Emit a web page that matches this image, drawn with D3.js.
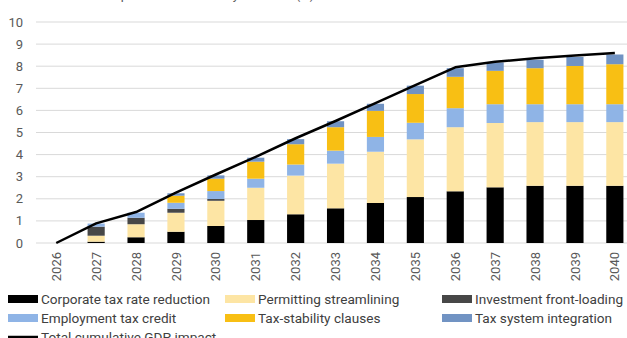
<!DOCTYPE html>
<html>
<head>
<meta charset="utf-8">
<script src="https://cdn.jsdelivr.net/npm/d3@7"></script>
<style>
  body { margin: 0; background: #fff; }
  svg { display: block; font-family: Roboto, "Liberation Sans", sans-serif; }
</style>
</head>
<body>
<svg id="chart" width="627" height="338"></svg>
<script>
// Contribution of each measure to the GDP level, percent
const years = ["2026","2027","2028","2029","2030","2031","2032","2033","2034","2035","2036","2037","2038","2039","2040"];
const corporateTax  = [0, 0.06, 0.26, 0.51, 0.77, 1.04, 1.30, 1.57, 1.81, 2.08, 2.34, 2.52, 2.59, 2.59, 2.59];
const permitting    = [0, 0.27, 0.59, 0.86, 1.14, 1.46, 1.75, 2.02, 2.32, 2.61, 2.90, 2.91, 2.88, 2.88, 2.88];
const frontLoading  = [0, 0.41, 0.29, 0.18, 0.08, 0, 0, 0, 0, 0, 0, 0, 0, 0, 0];
const employment    = [0, 0.14, 0.23, 0.27, 0.36, 0.41, 0.50, 0.59, 0.67, 0.75, 0.86, 0.85, 0.81, 0.81, 0.81];
const taxStability  = [0, 0, 0, 0.32, 0.56, 0.77, 0.92, 1.06, 1.18, 1.30, 1.42, 1.51, 1.63, 1.73, 1.81];
const taxSystem     = [0, 0, 0, 0.11, 0.15, 0.18, 0.23, 0.27, 0.32, 0.38, 0.39, 0.38, 0.38, 0.41, 0.44];
const totalImpact   = [0, 0.89, 1.40, 2.28, 3.10, 3.90, 4.74, 5.52, 6.33, 7.14, 7.95, 8.20, 8.36, 8.48, 8.60];
const yTicks = [0,1,2,3,4,5,6,7,8,9,10];

const seriesNames = ["Corporate tax rate reduction","Permitting streamlining","Investment front-loading",
                     "Employment tax credit","Tax-stability clauses","Tax system integration"];
const seriesValues = [corporateTax, permitting, frontLoading, employment, taxStability, taxSystem];
const seriesColors = ["#000000","#fde5a4","#474747","#8fb4e6","#f8bf14","#7193c3"];
const lineName = "Total cumulative GDP impact";

const svg = d3.select("#chart");

const x = d3.scaleBand().domain(years).range([36.3, 634.8]).paddingInner(0.57).paddingOuter(0.285);
const y = d3.scaleLinear().domain([0, 10]).range([243, 22]);

// Title (sits above the plot, mostly outside the frame)
svg.append("text")
  .attr("x", 38).attr("y", -1)
  .attr("font-size", 13).attr("fill", "#595959")
  .text("Cumulative impact on GDP level by measure (%)");

// Horizontal gridlines and y labels
const yAxis = svg.append("g");
yAxis.selectAll("line").data(yTicks).join("line")
  .attr("x1", 36).attr("x2", 627)
  .attr("y1", d => y(d)).attr("y2", d => y(d))
  .attr("stroke", "#d9d9d9").attr("stroke-width", 1);
yAxis.selectAll("text").data(yTicks).join("text")
  .attr("x", 23).attr("y", d => y(d)).attr("dy", "0.35em")
  .attr("text-anchor", "end").attr("font-size", 13).attr("fill", "#595959")
  .text(d => d);

// Stacked bars
const table = years.map((yr, i) => {
  const row = { year: yr };
  seriesNames.forEach((n, k) => row[n] = seriesValues[k][i]);
  return row;
});
const stacked = d3.stack().keys(seriesNames)(table);

svg.append("g").selectAll("g").data(stacked).join("g")
  .attr("fill", (d, i) => seriesColors[i])
  .selectAll("rect").data(d => d).join("rect")
  .attr("x", d => x(d.data.year))
  .attr("width", x.bandwidth())
  .attr("y", d => y(d[1]))
  .attr("height", d => Math.max(0, y(d[0]) - y(d[1])));

// Total line
const line = d3.line()
  .x((d, i) => x(years[i]) + x.bandwidth() / 2)
  .y(d => y(d));
svg.append("path").datum(totalImpact)
  .attr("d", line)
  .attr("fill", "none").attr("stroke", "#000").attr("stroke-width", 2.5)
  .attr("stroke-linejoin", "round");

// X labels, rotated
svg.append("g").selectAll("text").data(years).join("text")
  .attr("transform", d => `translate(${x(d) + x.bandwidth() / 2},252) rotate(-90)`)
  .attr("text-anchor", "end").attr("dy", "0.35em")
  .attr("font-size", 13).attr("fill", "#595959")
  .text(d => d);

// Legend
const legendCols = [8, 225, 442];
const legendRows = [299, 318, 337];
const legend = svg.append("g");
seriesNames.forEach((n, i) => {
  const cx = legendCols[i % 3], cy = legendRows[Math.floor(i / 3)];
  legend.append("rect").attr("x", cx).attr("y", cy - 4).attr("width", 30).attr("height", 8)
    .attr("fill", seriesColors[i]);
  legend.append("text").attr("x", cx + 33).attr("y", cy).attr("dy", "0.35em")
    .attr("font-size", 13.6).attr("fill", "#404040").text(n);
});
legend.append("line").attr("x1", 8).attr("x2", 38)
  .attr("y1", legendRows[2]).attr("y2", legendRows[2])
  .attr("stroke", "#000").attr("stroke-width", 2.5);
legend.append("text").attr("x", 41).attr("y", legendRows[2]).attr("dy", "0.35em")
  .attr("font-size", 13.6).attr("fill", "#404040").text(lineName);
</script>
</body>
</html>
